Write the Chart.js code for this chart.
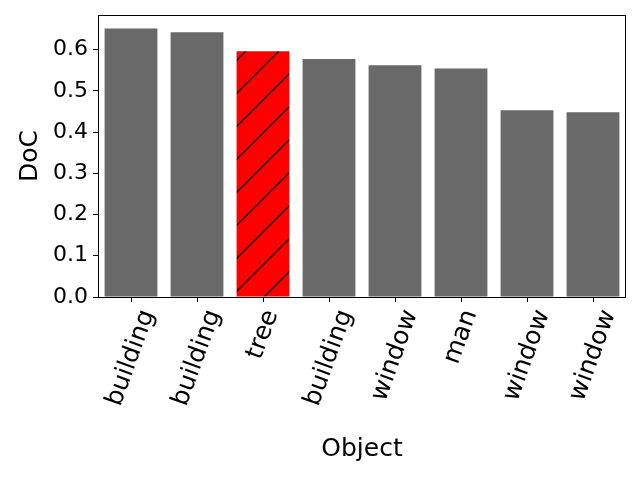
<!DOCTYPE html>
<html>
<head>
<meta charset="utf-8">
<script src="https://cdn.jsdelivr.net/npm/chart.js@4/dist/chart.umd.min.js"></script>
<style>
  html, body { margin: 0; padding: 0; background: #fff; }
  #wrap { width: 640px; height: 480px; }
</style>
</head>
<body>
<div id="wrap"><canvas id="barChart" width="640" height="480"></canvas></div>
<script>
var objects = ['building', 'building', 'tree', 'building', 'window', 'man', 'window', 'window'];
var doc = [0.651, 0.642, 0.596, 0.577, 0.562, 0.554, 0.453, 0.448];
var highlight = 2;
var yTicks = [0.0, 0.1, 0.2, 0.3, 0.4, 0.5, 0.6];

var FONT = "'DejaVu Sans', sans-serif";

// red fill with "/" hatch
function hatch() {
    var s = 33;
    var c = document.createElement('canvas');
    c.width = s; c.height = s;
    var g = c.getContext('2d');
    g.fillStyle = '#ff0000';
    g.fillRect(0, 0, s, s);
    g.strokeStyle = '#000';
    g.lineWidth = 1.3;
    g.beginPath();
    g.moveTo(-2, s + 2); g.lineTo(s + 2, -2);
    g.moveTo(-2, 2); g.lineTo(2, -2);
    g.moveTo(s - 2, s + 2); g.lineTo(s + 2, s - 2);
    g.stroke();
    return g.createPattern(c, 'repeat');
}

var colors = objects.map(function (o, i) { return i === highlight ? hatch() : '#696969'; });

var frame = {
    id: 'frame',
    afterDraw: function (chart) {
        var ctx = chart.ctx, a = chart.chartArea, xs = chart.scales.x;
        ctx.save();
        ctx.strokeStyle = '#000';
        ctx.lineWidth = 1;
        ctx.strokeRect(a.left + 0.5, a.top + 0.5, a.right - a.left - 1, a.bottom - a.top);
        // x tick marks
        ctx.beginPath();
        for (var i = 0; i < objects.length; i++) {
            var x = Math.round(xs.getPixelForTick(i)) + 0.5;
            ctx.moveTo(x, a.bottom);
            ctx.lineTo(x, a.bottom + 5);
        }
        ctx.stroke();
        // rotated labels, centred on their tick like matplotlib ha='center'
        var size = 25;
        ctx.font = size + 'px ' + FONT;
        ctx.fillStyle = '#000';
        ctx.textAlign = 'center';
        ctx.textBaseline = 'middle';
        var ang = 70 * Math.PI / 180;
        var h = size * 1.164;
        for (var j = 0; j < objects.length; j++) {
            var w = ctx.measureText(objects[j]).width;
            var vert = w * Math.sin(ang) + h * Math.cos(ang);
            var cx = xs.getPixelForTick(j);
            var cy = a.bottom + 9 + vert / 2;
            ctx.save();
            ctx.translate(cx, cy);
            ctx.rotate(-ang);
            ctx.fillText(objects[j], 0, 0);
            ctx.restore();
        }
        ctx.restore();
    }
};

new Chart(document.getElementById('barChart').getContext('2d'), {
    type: 'bar',
    data: {
        labels: objects,
        datasets: [{
            label: 'DoC',
            data: doc,
            backgroundColor: colors,
            borderWidth: 0,
            categoryPercentage: 0.8,
            barPercentage: 1.0
        }]
    },
    options: {
        responsive: false,
        animation: false,
        layout: { padding: { top: 15, right: 14, left: 0, bottom: 0 } },
        plugins: { legend: { display: false }, tooltip: { enabled: false } },
        scales: {
            x: {
                offset: true,
                grid: { display: false, offset: false },
                border: { display: false },
                ticks: { display: false },
                title: {
                    display: true,
                    text: 'Object',
                    color: '#000',
                    font: { family: FONT, size: 25 },
                    padding: { top: 16, bottom: 16 }
                },
                afterFit: function (s) { s.height = 183; s.paddingLeft = 0; s.paddingRight = 0; }
            },
            y: {
                min: 0,
                max: 0.684,
                grid: { drawOnChartArea: false, drawTicks: true, tickLength: 5, color: '#000' },
                border: { display: false },
                afterBuildTicks: function (s) {
                    s.ticks = yTicks.map(function (v) { return { value: v }; });
                },
                ticks: {
                    color: '#000',
                    padding: 5,
                    font: { family: FONT, size: 22 },
                    callback: function (v) { return Number(v).toFixed(1); }
                },
                title: {
                    display: true,
                    text: 'DoC',
                    color: '#000',
                    font: { family: FONT, size: 25 },
                    padding: { top: 15, bottom: 15 }
                },
                afterFit: function (s) { s.width = 98; s.paddingTop = 0; s.paddingBottom = 0; }
            }
        }
    },
    plugins: [frame]
});
</script>
</body>
</html>
